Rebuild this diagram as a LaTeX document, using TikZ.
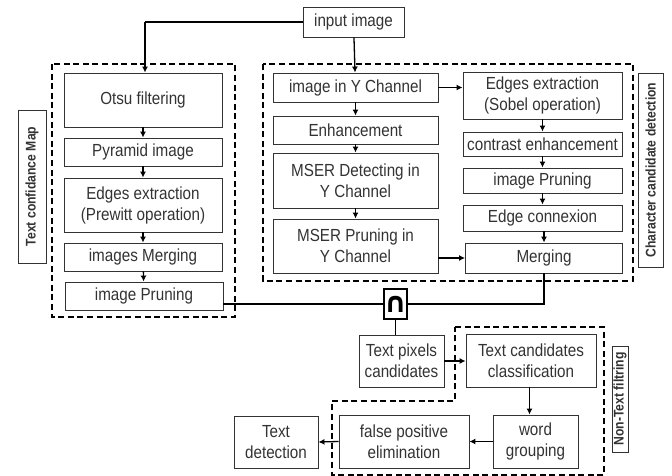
\documentclass[tikz,border=0pt]{standalone}
\usepackage{fontspec}
\setmainfont{Liberation Sans}[FakeStretch=0.87]
\newfontfamily\symf{DejaVu Sans}
\usetikzlibrary{arrows.meta}
\definecolor{ink}{HTML}{333333}
\begin{document}
\begin{tikzpicture}[x=1pt,y=-1pt,
  box/.style={draw=ink,line width=0.9pt,inner sep=0pt,align=center,text=ink,
    font=\fontsize{17.5}{21}\selectfont},
  lab/.style={draw=ink,line width=0.9pt,inner sep=0pt,rotate=90,text=ink,
    font=\bfseries\fontsize{14}{16}\selectfont},
  grp/.style={draw=black,line width=1.6pt,dash pattern=on 6pt off 3.6pt},
  arr/.style={draw=black,line width=1.3pt,-{Latex[length=6pt,width=6pt]}},
  ln/.style={draw=black,line width=1.3pt},
  capbox/.style={draw=black,line width=2pt,inner sep=0pt,minimum width=21pt,minimum height=30pt,
    font=\symf\bfseries\fontsize{28}{28}\selectfont}]
\useasboundingbox (0,0) rectangle (672,476);
% group frames
\draw[grp] (52,64) rectangle (235,317);
\draw[grp] (263,64) rectangle (633,281);
\draw[grp] (455,327) -- (604,327) -- (604,475) -- (332,475) -- (332,401) -- (455,401) -- cycle;
% nodes
\node[box,minimum width=101pt,minimum height=30pt] (input) at (353.5,22) {input image};
\node[box,minimum width=158pt,minimum height=54pt] (otsu) at (143,100) {Otsu filtering};
\node[box,minimum width=158pt,minimum height=28pt] (pyr) at (143,152) {Pyramid image};
\node[box,minimum width=158pt,minimum height=54pt] (prew) at (143,205) {Edges extraction\\(Prewitt operation)};
\node[box,minimum width=158pt,minimum height=28pt] (imerg) at (143,257) {images Merging};
\node[box,minimum width=158pt,minimum height=28pt] (iprun) at (144,296) {image Pruning};
\node[box,minimum width=165pt,minimum height=29pt] (ychan) at (355.5,87.5) {image in Y Channel};
\node[box,minimum width=165pt,minimum height=28pt] (enh) at (355.5,130) {Enhancement};
\node[box,minimum width=165pt,minimum height=55pt] (mserd) at (355.5,180.5) {MSER Detecting in\\Y Channel};
\node[box,minimum width=165pt,minimum height=54pt] (mserp) at (355.5,246) {MSER Pruning in\\Y Channel};
\node[box,minimum width=159pt,minimum height=47pt] (sobel) at (542.5,95.5) {Edges extraction\\(Sobel operation)};
\node[box,minimum width=159pt,minimum height=24pt] (contr) at (542.5,144) {contrast enhancement};
\node[box,minimum width=159pt,minimum height=25pt] (rprun) at (542.5,180.5) {image Pruning};
\node[box,minimum width=159pt,minimum height=26pt] (conn) at (542.5,218) {Edge connexion};
\node[box,minimum width=157pt,minimum height=30pt] (merg) at (544,258) {Merging};
\node[capbox] (cap) at (395.5,304) {∩};
\node[box,minimum width=85pt,minimum height=52pt] (tpix) at (401.5,361) {Text pixels\\candidates};
\node[box,minimum width=130pt,minimum height=53pt] (tcls) at (531,360.5) {Text candidates\\classification};
\node[box,minimum width=85pt,minimum height=53pt] (word) at (535.5,441.5) {word\\grouping};
\node[box,minimum width=130pt,minimum height=53pt] (fpe) at (404,441.5) {false positive\\elimination};
\node[box,minimum width=84pt,minimum height=52pt] (tdet) at (276,442) {Text\\detection};
% side labels
\node[lab,minimum width=153pt,minimum height=28pt] (tcm) at (32,186.5) {Text confidance Map};
\node[lab,minimum width=194pt,minimum height=25pt] (ccd) at (650.5,170) {Character candidate detection};
\node[lab,minimum width=106pt,minimum height=16pt] (ntf) at (620,399) {Non-Text filtring};
% connectors
\coordinate (bend) at (145,22);
\draw[ln] (input.west) -- (bend);
\draw[arr] (bend) -- (bend |- otsu.north);
\draw[arr] (otsu) -- (pyr);
\draw[arr] (pyr) -- (prew);
\draw[arr] (prew) -- (imerg);
\draw[arr] (imerg) -- (iprun);
\draw[arr] (input) -- (ychan);
\draw[arr] (ychan) -- (enh);
\draw[arr] (enh) -- (mserd);
\draw[arr] (mserd) -- (mserp);
\draw[arr] (ychan.east) -- (ychan.east -| sobel.west);
\draw[arr] (sobel) -- (contr);
\draw[arr] (contr) -- (rprun);
\draw[arr] (rprun) -- (conn);
\draw[arr] (conn.south -| merg.north) -- (merg.north);
\draw[arr] (mserp.east |- merg.west) -- (merg.west);
\draw[ln] (iprun.east |- cap.west) -- (cap.west);
\draw[ln] (merg.south) |- (cap.east);
\draw[ln] (cap.south) -- (cap.south |- tpix.north);
\draw[arr] (tpix.east) -- (tpix.east -| tcls.west);
\draw[arr] (tcls.south -| word.north) ++(-6,0) coordinate (tc) -- (tc |- word.north);
\draw[arr] (word.west) -- (fpe.east);
\draw[arr] (fpe.west) -- (tdet.east);
\end{tikzpicture}
\end{document}
